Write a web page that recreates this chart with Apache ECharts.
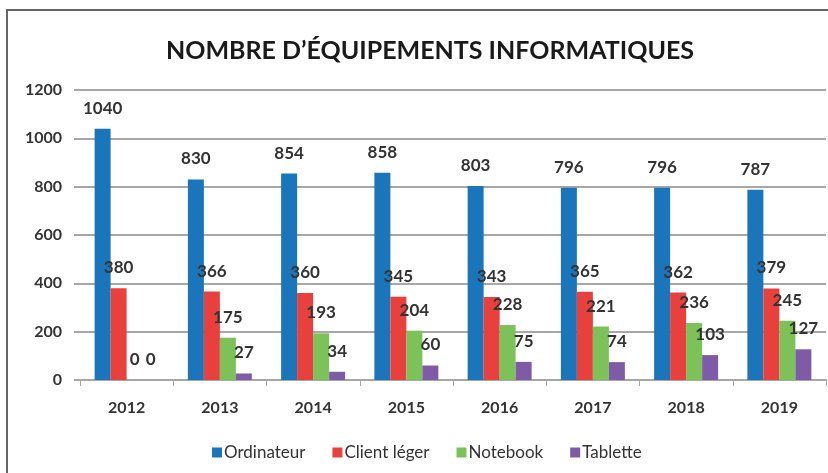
<!DOCTYPE html>
<html>
<head>
<meta charset="utf-8">
<script src="https://cdn.jsdelivr.net/npm/echarts@6/dist/echarts.min.js"></script>
<style>
  html, body { margin: 0; padding: 0; background: #ffffff; overflow: hidden; }
  #wrap { position: relative; width: 828px; height: 473px; overflow: hidden; }
  #chart { width: 828px; height: 473px; }
  /* frame around the chart: top and left edges */
  #frame {
    position: absolute; left: 6px; top: 9px; width: 900px; height: 600px;
    border-left: 2px solid #666666; border-top: 2px solid #666666;
    pointer-events: none;
  }
</style>
</head>
<body>
<div id="wrap">
  <div id="chart"></div>
  <div id="frame"></div>
</div>
<script>
// Years on the category axis
const years = ['2012', '2013', '2014', '2015', '2016', '2017', '2018', '2019'];

// Equipment counts per year
const ordinateur = [1040, 830, 854, 858, 803, 796, 796, 787];
const clientLeger = [380, 366, 360, 345, 343, 365, 362, 379];
const notebook = [0, 175, 193, 204, 228, 221, 236, 245];
const tablette = [0, 27, 34, 60, 75, 74, 103, 127];

// Value axis ticks
const yTicks = [0, 200, 400, 600, 800, 1000, 1200];

const seriesNames = ['Ordinateur', 'Client léger', 'Notebook', 'Tablette'];
const seriesData = [ordinateur, clientLeger, notebook, tablette];
const colors = ['#1b75bb', '#e8413d', '#7cc259', '#7e5ba7'];

const font = 'Lato, "Open Sans", sans-serif';
const gridColor = '#aaa6a6';

const chart = echarts.init(document.getElementById('chart'), null, { renderer: 'canvas' });

chart.setOption({
  animation: false,
  backgroundColor: '#ffffff',
  color: colors,
  title: {
    text: 'NOMBRE D\u2019ÉQUIPEMENTS INFORMATIQUES',
    left: 425,
    textAlign: 'center',
    top: 33,
    textStyle: { fontFamily: font, fontSize: 25, fontWeight: 'bold', color: '#1a1a1a' }
  },
  legend: {
    data: seriesNames,
    left: 212,
    top: 444,
    itemWidth: 10,
    itemHeight: 10,
    itemGap: 27,
    icon: 'rect',
    padding: 0,
    textStyle: { fontFamily: font, fontSize: 17, color: '#333', padding: [0, 0, 0, -3] }
  },
  grid: { left: 80, right: 2, top: 90, bottom: 93, containLabel: false },
  xAxis: {
    type: 'category',
    data: years,
    splitLine: { show: false },
    axisLine: { show: true, lineStyle: { color: gridColor, width: 2 } },
    axisTick: { show: true, length: 6, lineStyle: { color: gridColor, width: 1 } },
    axisLabel: { fontFamily: font, fontSize: 16, fontWeight: 'bold', color: '#333', margin: 20 }
  },
  yAxis: {
    type: 'value',
    min: yTicks[0],
    max: yTicks[yTicks.length - 1],
    interval: yTicks[1] - yTicks[0],
    axisLine: { show: false },
    axisTick: { show: true, length: 6, lineStyle: { color: gridColor, width: 2 } },
    splitLine: { show: true, lineStyle: { color: gridColor, width: 2 } },
    axisLabel: {
      fontFamily: font, fontSize: 16, fontWeight: 'bold', color: '#333', margin: 18,
      formatter: (v) => String(v)
    }
  },
  series: seriesNames.map((name, i) => ({
    name: name,
    type: 'bar',
    data: seriesData[i],
    barWidth: 16,
    barGap: '0%',
    itemStyle: { color: colors[i] },
    label: {
      show: true,
      position: 'top',
      distance: 12,
      fontFamily: font,
      fontSize: 17,
      fontWeight: 'bold',
      color: '#333'
    }
  }))
});
</script>
</body>
</html>
